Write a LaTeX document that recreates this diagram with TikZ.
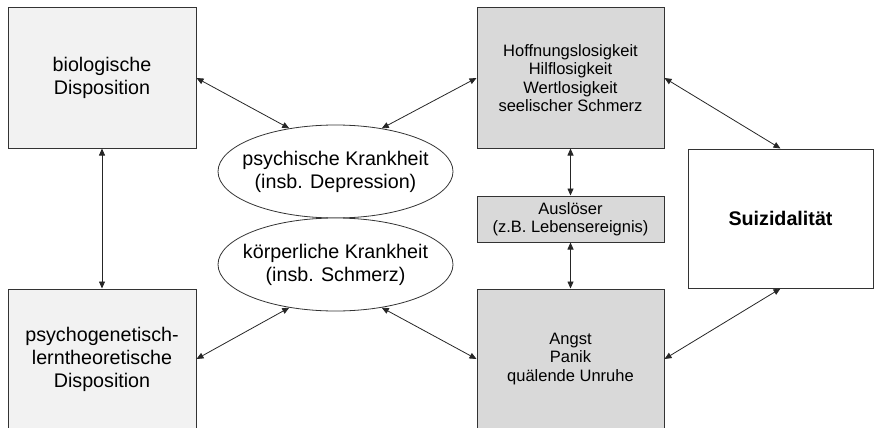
\documentclass[tikz,border=0pt]{standalone}
\usepackage{fontspec}
\setmainfont{Liberation Sans}
\usetikzlibrary{arrows.meta,shapes.geometric}

\definecolor{boxline}{HTML}{333333}
\definecolor{lightfill}{HTML}{F2F2F2}
\definecolor{darkfill}{HTML}{D9D9D9}

\tikzset{
  bigtext/.style={font=\fontsize{19.7}{23}\selectfont},
  smalltext/.style={font=\fontsize{16.5}{18.3}\selectfont},
  dispbox/.style={rectangle, draw=boxline, line width=1pt, fill=lightfill, align=center, bigtext, minimum width=188pt, minimum height=140pt},
  statebox/.style={rectangle, draw=boxline, line width=1pt, fill=darkfill, align=center, smalltext, minimum width=187pt, minimum height=140pt},
  illness/.style={ellipse, draw=boxline, line width=0.8pt, fill=white, inner sep=0pt, minimum width=235pt, minimum height=93pt,
    label={[bigtext, align=center]center:#1}},
  biarrow/.style={draw=black!85, line width=0.8pt, {Triangle[length=7pt,width=6pt]}-{Triangle[length=7pt,width=6pt]}}
}

\begin{document}
\begin{tikzpicture}[x=1pt,y=-1pt]
    \useasboundingbox (0,0) rectangle (875,428);
    \def\lx{102}
    \def\mx{570.5}
    % left column
    \node(bio) [dispbox] at (\lx,78) {biologische\\Disposition};
    \node(lern) [dispbox] at (\lx,359) {psychogenetisch-\\lerntheoretische\\Disposition};
    % illnesses
    \node(psych) [illness={psychische Krankheit\\(insb. Depression)}] at (335.5,171.5) {};
    \node(koerp) [illness={körperliche Krankheit\\(insb. Schmerz)}] at (335.5,264.5) {};
    % middle column
    \node(hoff) [statebox] at (\mx,78) {Hoffnungslosigkeit\\Hilflosigkeit\\Wertlosigkeit\\seelischer Schmerz};
    \node(ausl) [statebox, minimum height=46pt] at (\mx,219) {Auslöser\\(z.B. Lebensereignis)};
    \node(angst) [statebox] at (\mx,359) {Angst\\Panik\\quälende Unruhe};
    % right
    \node(suiz) [rectangle, draw=boxline, line width=1pt, fill=white, font=\fontsize{19.7}{23}\selectfont\bfseries, minimum width=185pt, minimum height=139pt] at (780.5,218.5) {Suizidalität};

    \draw[biarrow] (bio.south) -- (lern.north);
    \draw[biarrow] (bio.east) -- (psych.137);
    \draw[biarrow] (psych.43) -- (hoff.west);
    \draw[biarrow] (lern.east) -- (koerp.223);
    \draw[biarrow] (koerp.317) -- (angst.west);
    \draw[biarrow] (ausl.north) -- (hoff.south);
    \draw[biarrow] (ausl.south) -- (angst.north);
    \draw[biarrow] (hoff.east) -- (suiz.north);
    \draw[biarrow] (suiz.south) -- (angst.east);
\end{tikzpicture}
\end{document}
